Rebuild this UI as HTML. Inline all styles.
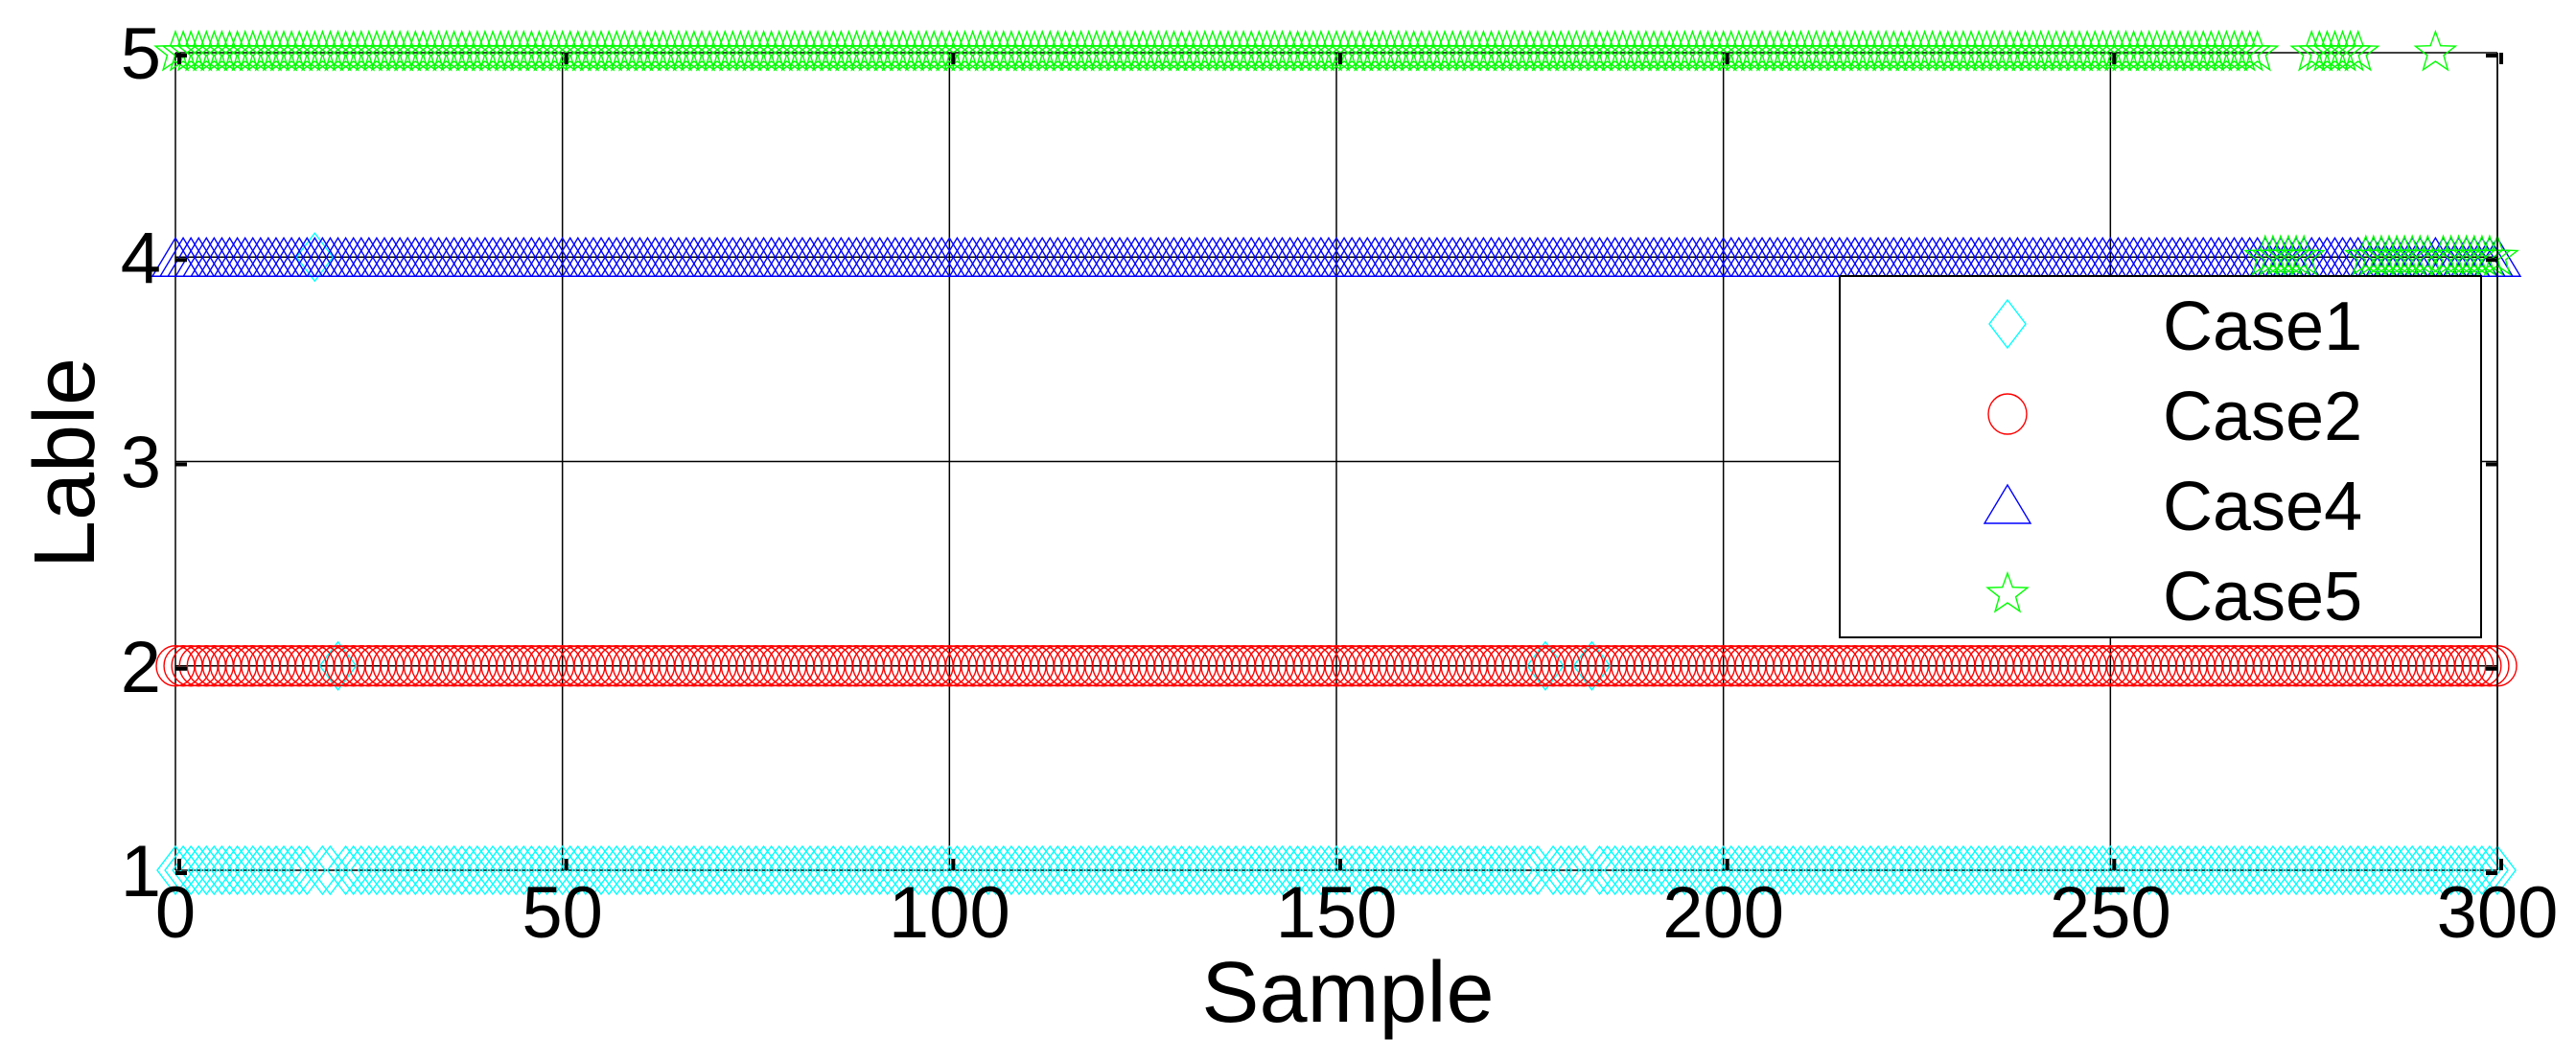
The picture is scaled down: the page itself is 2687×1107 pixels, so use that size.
<!DOCTYPE html>
<html><head><meta charset="utf-8"><style>
html,body{margin:0;padding:0;background:#fff;}
svg{display:block;font-family:"Liberation Sans",Arial,sans-serif;}
</style></head><body>
<svg id="chart" width="2687" height="1107" viewBox="0 0 2687 1107" xmlns="http://www.w3.org/2000/svg">
<rect x="0" y="0" width="2687" height="1107" fill="#fff"/>
<g id="grid"></g>
<g id="marks"></g>
<g id="axes"></g>
<g id="legend"></g>
</svg>
<script>
const xTicks = [0, 50, 100, 150, 200, 250, 300];
const yTicks = [1, 2, 3, 4, 5];
const seriesNames = ["Case1", "Case2", "Case4", "Case5"];
const seriesColors = ["#00ffff", "#ff0000", "#0000ff", "#00ff00"];
const seriesMarkers = ["diamond", "circle", "triangle", "star"];
const case1Base = 1;
const case1Exceptions = [[18, 4], [21, 2], [177, 2], [183, 2]];
const case2Base = 2;
const case2Exceptions = [];
const case4Base = 4;
const case4Exceptions = [];
const case5Base = 5;
const case5Exceptions = [[270,4],[271,4],[272,4],[273,4],[274,4],[275,4],[283,4],[284,4],[285,4],[286,4],[287,4],[288,4],[289,4],[290,4],[291,4],[293,4],[294,4],[295,4],[296,4],[297,4],[298,4],[299,4],[300,4]];
const sampleCount = 301;

const NS = "http://www.w3.org/2000/svg";
const L = 183, R = 2605, T = 55, B = 908;
const xMin = 0, xMax = 300, yMin = 1, yMax = 5;
function xS(v){ return L + (v - xMin) / (xMax - xMin) * (R - L); }
function yS(v){ return B - (v - yMin) / (yMax - yMin) * (B - T); }
function mk(tag, attrs, parent){ const e = document.createElementNS(NS, tag); for (const k in attrs) e.setAttribute(k, attrs[k]); parent.appendChild(e); return e; }

function buildSeries(base, exc){
  const vals = [];
  for (let i = 0; i < sampleCount; i++) vals.push(base);
  exc.forEach(p => { vals[p[0]] = p[1]; });
  return vals;
}
const seriesValues = [
  buildSeries(case1Base, case1Exceptions),
  buildSeries(case2Base, case2Exceptions),
  buildSeries(case4Base, case4Exceptions),
  buildSeries(case5Base, case5Exceptions)
];

function markerPath(type, cx, cy){
  if (type === "diamond") { const w = 19, h = 25; return `M${cx} ${cy-h}L${cx+w} ${cy}L${cx} ${cy+h}L${cx-w} ${cy}Z`; }
  if (type === "triangle") { const w = 24, h = 20; return `M${cx} ${cy-h}L${cx+w} ${cy+h}L${cx-w} ${cy+h}Z`; }
  if (type === "star") {
    let d = ""; const ro = 22, ri = 9;
    for (let k = 0; k < 10; k++) { const r = k % 2 ? ri : ro; const a = -Math.PI/2 + k*Math.PI/5; d += (k ? "L" : "M") + (cx + r*Math.cos(a)).toFixed(1) + " " + (cy + r*Math.sin(a)).toFixed(1); }
    return d + "Z";
  }
  return null;
}
function drawMarker(type, cx, cy, color, parent){
  let e;
  if (type === "circle") e = mk("ellipse", {cx: cx, cy: cy, rx: 20, ry: 21, fill: "none", stroke: color, "stroke-width": 1.4}, parent);
  else e = mk("path", {d: markerPath(type, cx, cy), fill: "none", stroke: color, "stroke-width": 1.4}, parent);
  return e;
}

const grid = document.getElementById("grid");
xTicks.forEach(t => {
  const g = mk("line", {x1: xS(t), x2: xS(t), y1: T, y2: B, stroke: "#000", "stroke-width": 1.5}, grid);
  
  
});
yTicks.forEach(t => {
  const g = mk("line", {x1: L, x2: R, y1: yS(t), y2: yS(t), stroke: "#000", "stroke-width": 1.5}, grid);
  
  
});

const marks = document.getElementById("marks");
seriesValues.forEach((vals, si) => {
  const g = mk("g", {}, marks);
  
  
  vals.forEach((v, i) => {
    const m = drawMarker(seriesMarkers[si], xS(i), yS(v), seriesColors[si], g);
    
    
  });
});

const axes = document.getElementById("axes");
xTicks.forEach(t => {
  [[B, B-12],[T, T+12]].forEach(p => {
    const tk = mk("line", {x1: xS(t)+4, x2: xS(t)+4, y1: p[0], y2: p[1], stroke: "#000", "stroke-width": 4}, axes);
    
    
  });
  const lb = mk("text", {x: xS(t), y: 978, "font-size": 76, "text-anchor": "middle", fill: "#000"}, axes);
  lb.textContent = t;
  
  
});
yTicks.forEach(t => {
  [[L, L+12],[R, R-12]].forEach(p => {
    const tk = mk("line", {x1: p[0], x2: p[1], y1: yS(t)+3, y2: yS(t)+3, stroke: "#000", "stroke-width": 4}, axes);
    
    
  });
  const lb = mk("text", {x: 168, y: yS(t)+27, "font-size": 76, "text-anchor": "end", fill: "#000"}, axes);
  lb.textContent = t;
  
  
});
const box = mk("line", {x1: R, x2: R, y1: T, y2: B, stroke: "#000", "stroke-width": 1.5}, axes);


const xt = mk("text", {x: 1406, y: 1066, "font-size": 90, "text-anchor": "middle", fill: "#000"}, axes);
xt.textContent = "Sample";


const yt = mk("text", {x: 0, y: 0, "font-size": 90, "text-anchor": "middle", fill: "#000", transform: "translate(98,483) rotate(-90)"}, axes);
yt.textContent = "Lable";



const legend = document.getElementById("legend");
const lr = mk("rect", {x: 1919, y: 288, width: 669, height: 377, fill: "#fff", stroke: "#000", "stroke-width": 2}, legend);


seriesNames.forEach((n, i) => {
  const cy = 338 + i * 94;
  const g = mk("g", {}, legend);
  
  
  drawMarker(seriesMarkers[i], 2094, cy, seriesColors[i], g);
  const tx = mk("text", {x: 2256, y: cy + 27, "font-size": 72, fill: "#000"}, g);
  tx.textContent = n;
  
  
});
</script>
</body></html>
